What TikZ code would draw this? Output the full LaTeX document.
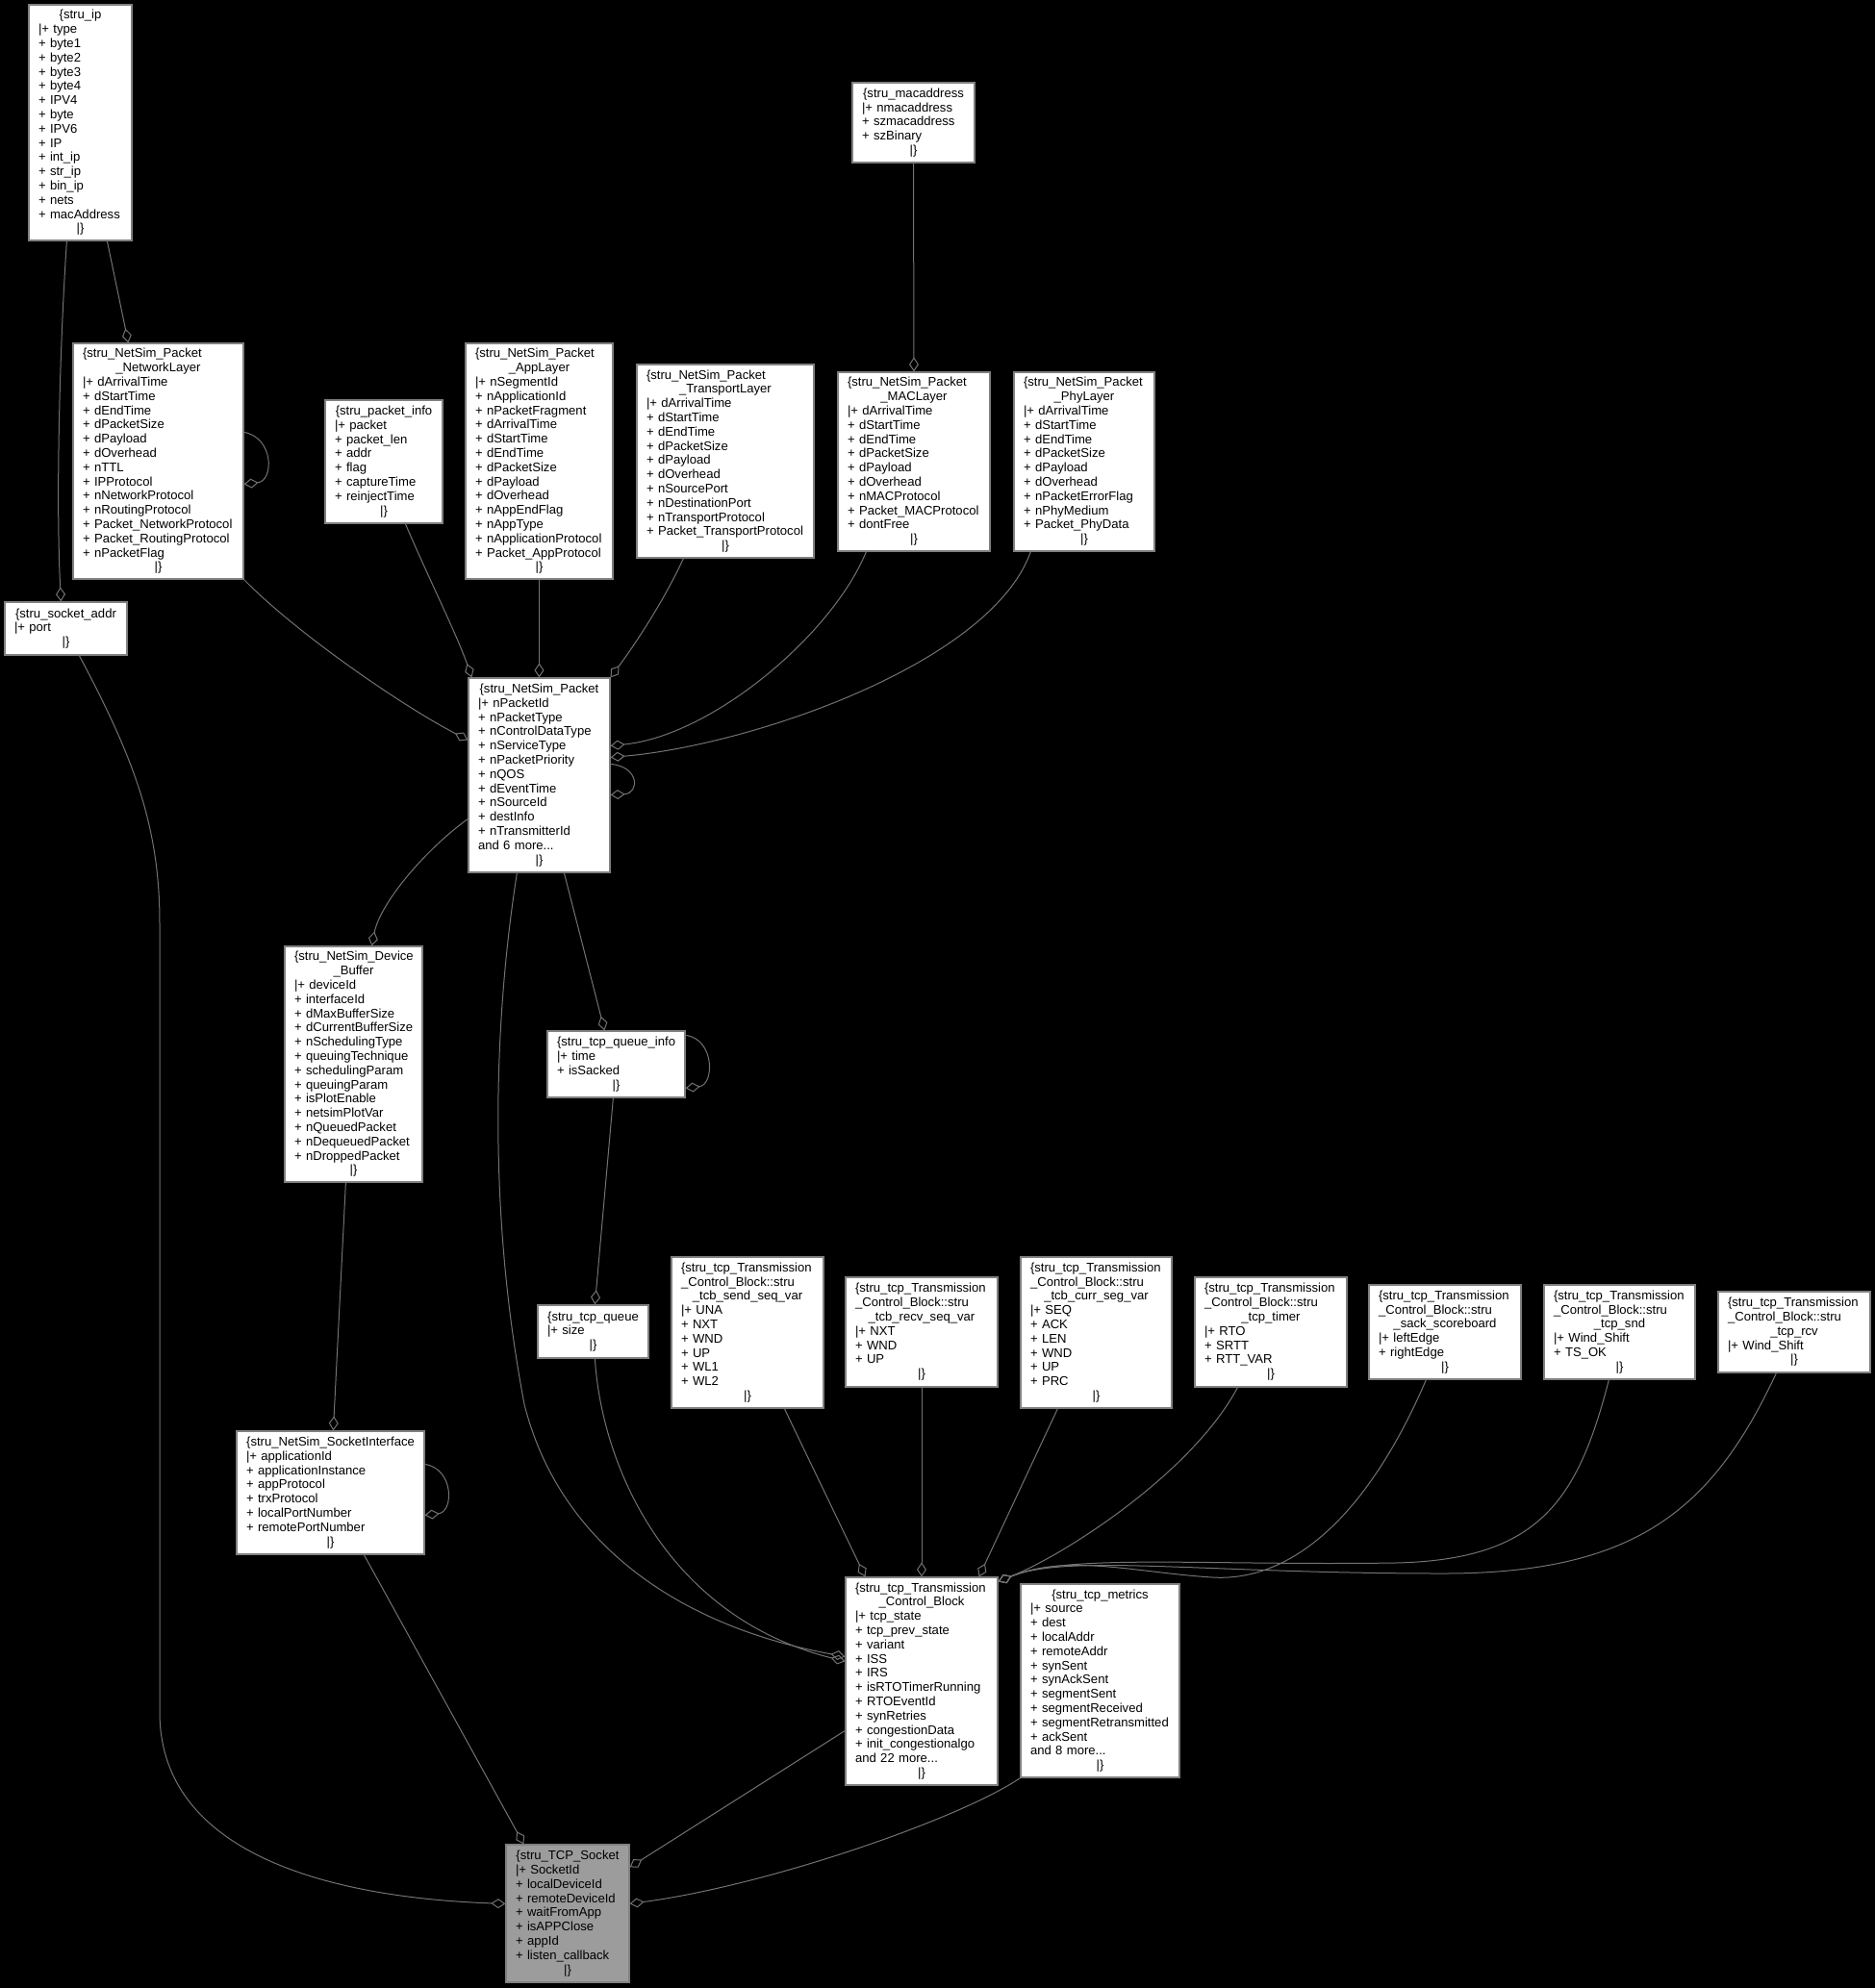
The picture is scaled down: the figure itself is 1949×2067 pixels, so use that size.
\documentclass[tikz,border=0pt]{standalone}
\usepackage{fontspec}
\setmainfont{Liberation Sans}
\usetikzlibrary{arrows.meta}
\definecolor{boxgray}{HTML}{808080}
\definecolor{edgegray}{HTML}{737373}
\definecolor{sockgray}{HTML}{9C9C9C}
\hbadness=10000 \hfuzz=20pt
\hyphenpenalty=10000 \exhyphenpenalty=10000
\newcommand\cl[1]{\leavevmode\hbox to\hsize{\hfil#1\hfil}}
\newcommand\cls[7][white]{%
  \pgfmathsetmacro\mybw{#5-#3}\pgfmathsetmacro\mybh{#6-#4}%
  \pgfmathsetmacro\mytw{#5-#3-20}%
  \pgfmathsetmacro\mycx{(#3+#5)/2}\pgfmathsetmacro\mycy{(#4+#6)/2}%
  \node[umlbox, fill=#1, text width=\mytw pt, minimum width=\mybw pt, minimum height=\mybh pt] (#2) at (\mycx,\mycy) {#7};}
\tikzset{
  umlbox/.style={draw=boxgray, line width=1.2pt, inner xsep=10pt, inner ysep=0pt,
    font=\fontsize{13.1}{14.8}\selectfont, align=left, anchor=center},
  agg/.style={draw=edgegray, line width=1pt, -{Diamond[open, length=15pt, width=10pt]}}
}
\begin{document}
\begin{tikzpicture}[x=1pt,y=-1pt]
\useasboundingbox (0,0) rectangle (1949,2067);
\fill[black] (0,0) rectangle (1949,2067);

\cls{ip}{30}{5}{137}{250}{\cl{\{stru\_ip}\\|+~type\\+~byte1\\+~byte2\\+~byte3\\+~byte4\\+~IPV4\\+~byte\\+~IPV6\\+~IP\\+~int\_ip\\+~str\_ip\\+~bin\_ip\\+~nets\\+~macAddress\\\cl{|\}}}

\cls{net}{76}{357}{253}{602}{\{stru\_NetSim\_Packet\\\cl{\_NetworkLayer}\\|+~dArrivalTime\\+~dStartTime\\+~dEndTime\\+~dPacketSize\\+~dPayload\\+~dOverhead\\+~nTTL\\+~IPProtocol\\+~nNetworkProtocol\\+~nRoutingProtocol\\+~Packet\_NetworkProtocol\\+~Packet\_RoutingProtocol\\+~nPacketFlag\\\cl{|\}}}

\cls{pinfo}{338}{416}{460}{544}{\cl{\{stru\_packet\_info}\\|+~packet\\+~packet\_len\\+~addr\\+~flag\\+~captureTime\\+~reinjectTime\\\cl{|\}}}

\cls{app}{484}{357}{637}{602}{\{stru\_NetSim\_Packet\\\cl{\_AppLayer}\\|+~nSegmentId\\+~nApplicationId\\+~nPacketFragment\\+~dArrivalTime\\+~dStartTime\\+~dEndTime\\+~dPacketSize\\+~dPayload\\+~dOverhead\\+~nAppEndFlag\\+~nAppType\\+~nApplicationProtocol\\+~Packet\_AppProtocol\\\cl{|\}}}

\cls{trans}{662}{379}{846}{580}{\{stru\_NetSim\_Packet\\\cl{\_TransportLayer}\\|+~dArrivalTime\\+~dStartTime\\+~dEndTime\\+~dPacketSize\\+~dPayload\\+~dOverhead\\+~nSourcePort\\+~nDestinationPort\\+~nTransportProtocol\\+~Packet\_TransportProtocol\\\cl{|\}}}

\cls{mac}{871}{387}{1029}{573}{\{stru\_NetSim\_Packet\\\cl{\_MACLayer}\\|+~dArrivalTime\\+~dStartTime\\+~dEndTime\\+~dPacketSize\\+~dPayload\\+~dOverhead\\+~nMACProtocol\\+~Packet\_MACProtocol\\+~dontFree\\\cl{|\}}}

\cls{phy}{1054}{387}{1200}{573}{\{stru\_NetSim\_Packet\\\cl{\_PhyLayer}\\|+~dArrivalTime\\+~dStartTime\\+~dEndTime\\+~dPacketSize\\+~dPayload\\+~dOverhead\\+~nPacketErrorFlag\\+~nPhyMedium\\+~Packet\_PhyData\\\cl{|\}}}

\cls{macaddr}{886}{86}{1013}{169}{\cl{\{stru\_macaddress}\\|+~nmacaddress\\+~szmacaddress\\+~szBinary\\\cl{|\}}}

\cls{sock}{5}{626}{132}{681}{\cl{\{stru\_socket\_addr}\\|+~port\\\cl{|\}}}

\cls{pkt}{487}{705}{634}{907}{\cl{\{stru\_NetSim\_Packet}\\|+~nPacketId\\+~nPacketType\\+~nControlDataType\\+~nServiceType\\+~nPacketPriority\\+~nQOS\\+~dEventTime\\+~nSourceId\\+~destInfo\\+~nTransmitterId\\and~6~more...\\\cl{|\}}}

\cls{buf}{296}{984}{439}{1229}{\{stru\_NetSim\_Device\\\cl{\_Buffer}\\|+~deviceId\\+~interfaceId\\+~dMaxBufferSize\\\mbox{+~dCurrentBufferSize}\\+~nSchedulingType\\+~queuingTechnique\\+~schedulingParam\\+~queuingParam\\+~isPlotEnable\\+~netsimPlotVar\\+~nQueuedPacket\\+~nDequeuedPacket\\+~nDroppedPacket\\\cl{|\}}}

\cls{qinfo}{569}{1072}{712}{1141}{\cl{\{stru\_tcp\_queue\_info}\\|+~time\\+~isSacked\\\cl{|\}}}

\cls{queue}{559}{1357}{674}{1412}{\cl{\{stru\_tcp\_queue}\\|+~size\\\cl{|\}}}

\cls{sendseq}{698}{1307}{856}{1464}{\{stru\_tcp\_Transmission\\\_Control\_Block::stru\\\cl{\_tcb\_send\_seq\_var}\\|+~UNA\\+~NXT\\+~WND\\+~UP\\+~WL1\\+~WL2\\\cl{|\}}}

\cls{recvseq}{879}{1328}{1037}{1442}{\{stru\_tcp\_Transmission\\\_Control\_Block::stru\\\cl{\_tcb\_recv\_seq\_var}\\|+~NXT\\+~WND\\+~UP\\\cl{|\}}}

\cls{currseg}{1061}{1307}{1218}{1464}{\{stru\_tcp\_Transmission\\\_Control\_Block::stru\\\cl{\_tcb\_curr\_seg\_var}\\|+~SEQ\\+~ACK\\+~LEN\\+~WND\\+~UP\\+~PRC\\\cl{|\}}}

\cls{timer}{1242}{1328}{1400}{1442}{\{stru\_tcp\_Transmission\\\_Control\_Block::stru\\\cl{\_tcp\_timer}\\|+~RTO\\+~SRTT\\+~RTT\_VAR\\\cl{|\}}}

\cls{sack}{1423}{1336}{1581}{1434}{\{stru\_tcp\_Transmission\\\_Control\_Block::stru\\\cl{\_sack\_scoreboard}\\|+~leftEdge\\+~rightEdge\\\cl{|\}}}

\cls{snd}{1605}{1336}{1762}{1434}{\{stru\_tcp\_Transmission\\\_Control\_Block::stru\\\cl{\_tcp\_snd}\\|+~Wind\_Shift\\+~TS\_OK\\\cl{|\}}}

\cls{rcv}{1786}{1343}{1944}{1427}{\{stru\_tcp\_Transmission\\\_Control\_Block::stru\\\cl{\_tcp\_rcv}\\|+~Wind\_Shift\\\cl{|\}}}

\cls{sockif}{246}{1488}{441}{1616}{\cl{\{stru\_NetSim\_SocketInterface}\\|+~applicationId\\+~applicationInstance\\+~appProtocol\\+~trxProtocol\\+~localPortNumber\\+~remotePortNumber\\\cl{|\}}}

\cls{tcb}{879}{1640}{1037}{1856}{\{stru\_tcp\_Transmission\\\cl{\_Control\_Block}\\|+~tcp\_state\\+~tcp\_prev\_state\\+~variant\\+~ISS\\+~IRS\\+~isRTOTimerRunning\\+~RTOEventId\\+~synRetries\\+~congestionData\\+~init\_congestionalgo\\and~22~more...\\\cl{|\}}}

\cls{metrics}{1061}{1647}{1226}{1848}{\cl{\{stru\_tcp\_metrics}\\|+~source\\+~dest\\+~localAddr\\+~remoteAddr\\+~synSent\\+~synAckSent\\+~segmentSent\\+~segmentReceived\\+~segmentRetransmitted\\+~ackSent\\and~8~more...\\\cl{|\}}}

\cls[sockgray]{tcpsock}{526}{1918}{654}{2061}{\cl{\{stru\_TCP\_Socket}\\|+~SocketId\\+~localDeviceId\\+~remoteDeviceId\\+~waitFromApp\\+~isAPPClose\\+~appId\\+~listen\_callback\\\cl{|\}}}

% connectors (diamond at the containing class)
\draw[agg] ([xshift=40pt]ip.south west) .. controls (62,360) and (58,520) .. ([xshift=59pt]sock.north west);
\draw[agg] ([xshift=82pt]ip.south west) -- ([xshift=58pt]net.north west);
\draw[agg] ([yshift=-93pt]net.north east) .. controls (285,455) and (285,500) .. ([yshift=-147pt]net.north east);
\draw[agg] (macaddr.south) -- (mac.north);
\draw[agg] (net.south east) .. controls (310,660) and (420,735) .. ([yshift=-65pt]pkt.north west);
\draw[agg] ([xshift=84pt]pinfo.south west) .. controls (445,600) and (475,660) .. ([xshift=4pt]pkt.north west);
\draw[agg] (app.south) -- (pkt.north);
\draw[agg] ([xshift=49pt]trans.south west) .. controls (690,625) and (660,670) .. (pkt.north east);
\draw[agg] ([xshift=30pt]mac.south west) .. controls (865,660) and (740,765) .. ([yshift=-71pt]pkt.north east);
\draw[agg] ([xshift=18pt]phy.south west) .. controls (1030,690) and (780,775) .. ([yshift=-83pt]pkt.north east);
\draw[agg] ([yshift=-90pt]pkt.north east) .. controls (665,797) and (665,825) .. ([yshift=-122pt]pkt.north east);
\draw[agg] ([yshift=-147pt]pkt.north west) .. controls (440,885) and (395,940) .. ([xshift=91pt]buf.north west);
\draw[agg] ([xshift=51pt]pkt.south west) .. controls (515,1050) and (505,1250) .. (545,1460) .. controls (580,1600) and (700,1690) .. ([yshift=-83pt]tcb.north west);
\draw[agg] ([xshift=100pt]pkt.south west) -- ([xshift=60pt]qinfo.north west);
\draw[agg] ([yshift=-5pt]qinfo.north east) .. controls (743,1080) and (743,1128) .. ([yshift=-60pt]qinfo.north east);
\draw[agg] ([xshift=69pt]qinfo.south west) -- ([xshift=60pt]queue.north west);
\draw[agg] ([xshift=60pt]queue.south west) .. controls (625,1520) and (690,1680) .. ([yshift=-88pt]tcb.north west);
\draw[agg] ([xshift=64pt]buf.south west) -- ([xshift=101pt]sockif.north west);
\draw[agg] ([yshift=-35pt]sockif.north east) .. controls (472,1527) and (472,1572) .. ([yshift=-88pt]sockif.north east);
\draw[agg] ([xshift=133pt]sockif.south west) -- ([xshift=19pt]tcpsock.north west);
\draw[agg] ([xshift=78pt]sock.south west) .. controls (140,790) and (166,860) .. (166,960) -- (166,1780) .. controls (166,1950) and (400,1975) .. ([yshift=-62pt]tcpsock.north west);
\draw[agg] ([xshift=118pt]sendseq.south west) -- ([xshift=21pt]tcb.north west);
\draw[agg] (recvseq.south) -- (tcb.north);
\draw[agg] ([xshift=39pt]currseg.south west) -- ([xshift=-20pt]tcb.north east);
\draw[agg] ([xshift=45pt]timer.south west) .. controls (1240,1530) and (1110,1615) .. ([yshift=-5pt]tcb.north east);
\draw[agg] ([xshift=60pt]sack.south west) .. controls (1420,1580) and (1340,1645) .. (1260,1640) .. controls (1180,1635) and (1110,1615) .. ([yshift=-5pt]tcb.north east);
\draw[agg] ([xshift=68pt]snd.south west) .. controls (1640,1560) and (1600,1622) .. (1450,1625) .. controls (1250,1628) and (1110,1615) .. ([yshift=-5pt]tcb.north east);
\draw[agg] ([xshift=61pt]rcv.south west) .. controls (1780,1570) and (1700,1636) .. (1500,1636) .. controls (1250,1636) and (1110,1615) .. ([yshift=-5pt]tcb.north east);
\draw[agg] ([yshift=-160pt]tcb.north west) -- ([yshift=-24pt]tcpsock.north east);
\draw[agg] (metrics.south west) .. controls (1000,1890) and (800,1960) .. ([yshift=-62pt]tcpsock.north east);
\end{tikzpicture}
\end{document}
